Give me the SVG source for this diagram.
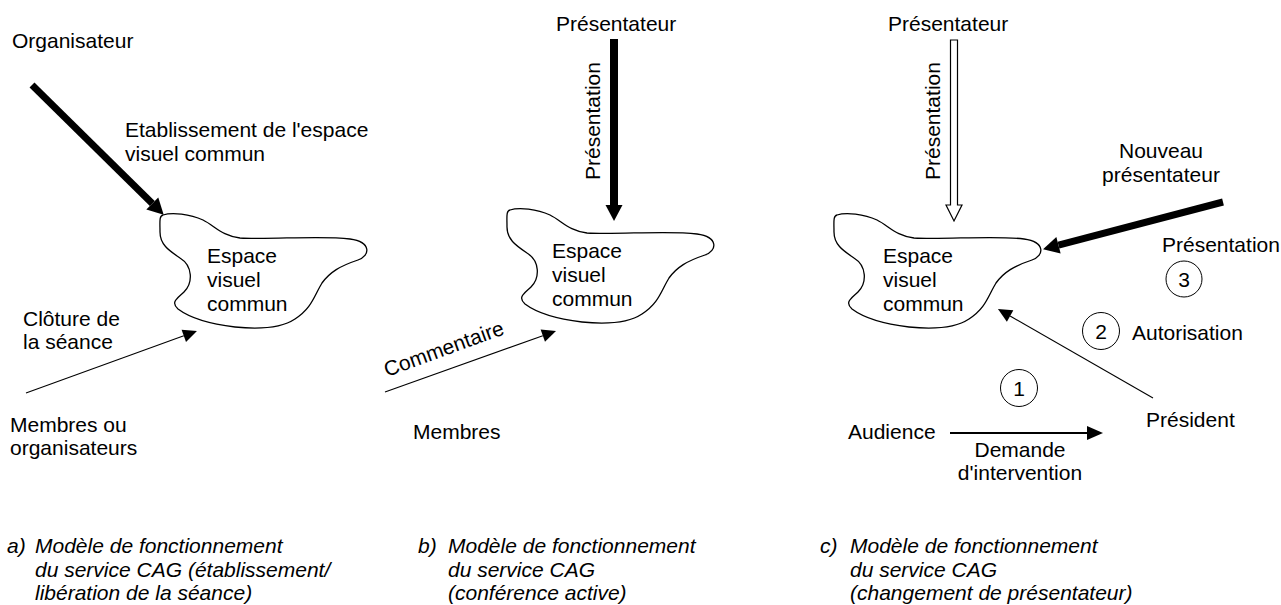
<svg xmlns="http://www.w3.org/2000/svg" width="1281" height="605" viewBox="0 0 1281 605">
<style>
text{font-family:"Liberation Sans",Arial,sans-serif;font-size:21px;fill:#000}
.cap{font-style:italic}
.mid{text-anchor:middle}
.blob{fill:none;stroke:#000;stroke-width:1.3}
.thick{stroke:#000;stroke-width:7;fill:none}
.thin{stroke:#000;stroke-width:1.1;fill:none}
.med{stroke:#000;stroke-width:2;fill:none}
.num{fill:none;stroke:#000;stroke-width:1}
</style>
<defs>
<marker id="hThick" markerUnits="userSpaceOnUse" markerWidth="20" markerHeight="20" refX="0" refY="0" orient="auto" overflow="visible"><path d="M0,-8.5 L16,0 L0,8.5 z" fill="#000"/></marker>
<marker id="hThin" markerUnits="userSpaceOnUse" markerWidth="20" markerHeight="20" refX="0" refY="0" orient="auto" overflow="visible"><path d="M0,-6.5 L14,0 L0,6.5 z" fill="#000"/></marker>
<marker id="hMed" markerUnits="userSpaceOnUse" markerWidth="20" markerHeight="20" refX="0" refY="0" orient="auto" overflow="visible"><path d="M0,-7 L16,0 L0,7 z" fill="#000"/></marker>
<path id="blobShape" d="M163,215 C172,212 190,214 203,220 C215,226 222,236 240,238 C270,240 320,235 350,239 C372,242 370,256 358,260 C340,266 330,272 322,283 C314,296 312,308 295,319 C280,329 255,329 235,327 C210,324 190,318 178,309 C170,302 178,298 184,292 C193,283 193,266 180,258 C168,250 160,244 160,232 C160,222 159,216 163,215 Z"/>
</defs>

<!-- Panel a -->
<g id="a-blob">
<use href="#blobShape" class="blob"/>
<text x="207" y="263">Espace</text>
<text x="207" y="287">visuel</text>
<text x="207" y="311">commun</text>
</g>
<g id="a-organisateur"><text x="12" y="48">Organisateur</text></g>
<g id="a-membres"><text x="10" y="432">Membres ou</text><text x="10" y="455">organisateurs</text></g>
<g id="a-labels">
<text x="125" y="137">Etablissement de l'espace</text>
<text x="125" y="161">visuel commun</text>
<text x="23" y="326">Clôture de</text>
<text x="23" y="349">la séance</text>
</g>
<g id="a-caption" class="cap">
<text x="7" y="553" class="cap">a)</text>
<text x="35" y="553" class="cap">Modèle de fonctionnement</text>
<text x="35" y="577" class="cap">du service CAG (établissement/</text>
<text x="35" y="600" class="cap">libération de la séance)</text>
</g>

<!-- Panel b -->
<g id="b-blob">
<use href="#blobShape" class="blob" transform="translate(347,-5)"/>
<text x="552" y="258">Espace</text>
<text x="552" y="282">visuel</text>
<text x="552" y="306">commun</text>
</g>
<g id="b-presentateur"><text x="556" y="31">Présentateur</text></g>
<g id="b-membres"><text x="413" y="439">Membres</text></g>
<g id="b-labels">
<text transform="translate(600,180) rotate(-90)">Présentation</text>
<text transform="translate(387,377) rotate(-20)">Commentaire</text>
</g>
<g id="b-caption">
<text x="418" y="553" class="cap">b)</text>
<text x="448" y="553" class="cap">Modèle de fonctionnement</text>
<text x="448" y="577" class="cap">du service CAG</text>
<text x="448" y="600" class="cap">(conférence active)</text>
</g>

<!-- Panel c -->
<g id="c-blob">
<use href="#blobShape" class="blob" transform="translate(674,0)"/>
<text x="883" y="263">Espace</text>
<text x="883" y="287">visuel</text>
<text x="883" y="311">commun</text>
</g>
<g id="c-presentateur"><text x="888" y="31">Présentateur</text></g>
<g id="c-nouveau"><text x="1161" y="158" class="mid">Nouveau</text><text x="1161" y="182" class="mid">présentateur</text></g>
<g id="c-president"><text x="1146" y="427">Président</text></g>
<g id="c-audience"><text x="848" y="439">Audience</text></g>
<g id="c-step1"><circle cx="1019" cy="388" r="18.5" class="num"/><text x="1019" y="395.5" class="mid">1</text></g>
<g id="c-step2"><circle cx="1101" cy="331" r="18.5" class="num"/><text x="1101" y="338.5" class="mid">2</text></g>
<g id="c-step3"><circle cx="1184" cy="279" r="18" class="num"/><text x="1184" y="286.5" class="mid">3</text></g>
<g id="c-labels">
<text transform="translate(940,180) rotate(-90)">Présentation</text>
<text x="1162" y="252">Présentation</text>
<text x="1132" y="340">Autorisation</text>
<text x="1020" y="457" class="mid">Demande</text>
<text x="1020" y="480" class="mid">d'intervention</text>
</g>
<g id="c-caption">
<text x="820" y="553" class="cap">c)</text>
<text x="850" y="553" class="cap">Modèle de fonctionnement</text>
<text x="850" y="577" class="cap">du service CAG</text>
<text x="850" y="600" class="cap">(changement de présentateur)</text>
</g>

<!-- Connectors -->
<g id="connectors">
<line x1="32" y1="85" x2="152.3" y2="203.5" class="thick" marker-end="url(#hThick)"/>
<line x1="26" y1="393" x2="183.8" y2="335.8" class="thin" marker-end="url(#hThin)"/>
<line x1="614" y1="39" x2="614" y2="205" class="thick" stroke-width="8" style="stroke-width:8" marker-end="url(#hThick)"/>
<line x1="385" y1="392" x2="542.8" y2="335.7" class="thin" marker-end="url(#hThin)"/>
<polygon points="950.5,40 957.5,40 957.5,205 962,205 954,221 946,205 950.5,205" fill="#fff" stroke="#000" stroke-width="1.2"/>
<line x1="1223" y1="202" x2="1058.5" y2="245.2" class="thick" marker-end="url(#hThick)"/>
<line x1="1153" y1="398" x2="1010.1" y2="316" class="thin" marker-end="url(#hThin)"/>
<line x1="950" y1="433" x2="1087" y2="433" class="med" marker-end="url(#hMed)"/>
</g>
</svg>
